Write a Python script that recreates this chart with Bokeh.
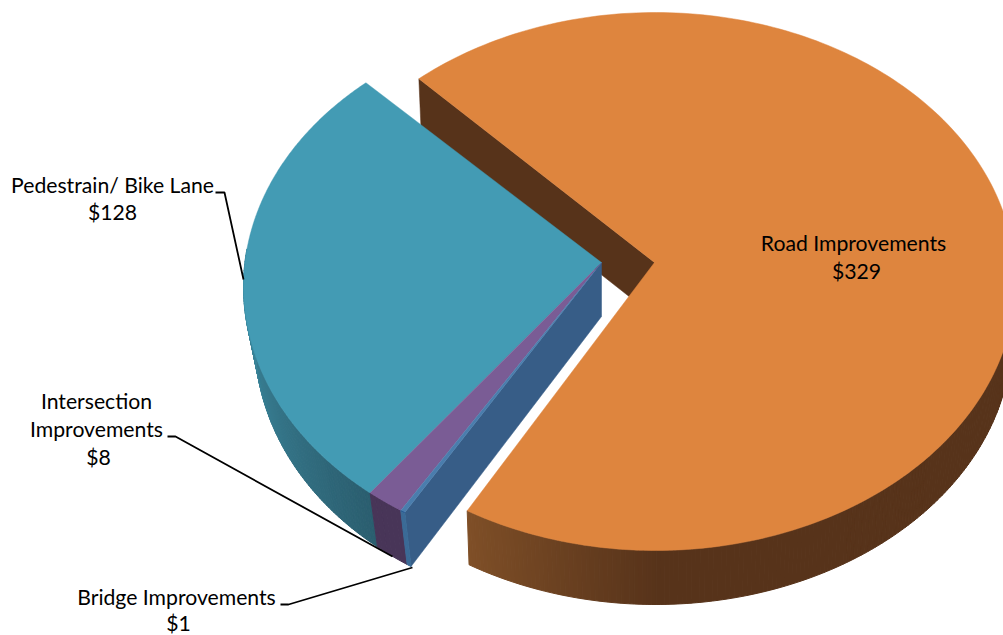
import numpy as np
from bokeh.core.properties import value
from bokeh.embed import file_html
from bokeh.models import ColumnDataSource
from bokeh.plotting import figure
from bokeh.resources import INLINE

categories = ["Road Improvements", "Bridge Improvements", "Intersection Improvements", "Pedestrain/ Bike Lane"]
amounts = [329, 1, 8, 128]
top_colors = ["#DE853E", "#4A7DAD", "#7A5C95", "#439BB4"]

TOTAL = sum(amounts)
DEPTH = 54


def mix(a, b, t):
    t = float(np.clip(t, 0, 1))
    ca = [int(a[i:i + 2], 16) for i in (1, 3, 5)]
    cb = [int(b[i:i + 2], 16) for i in (1, 3, 5)]
    return "#%02x%02x%02x" % tuple(round(x + (y - x) * t) for x, y in zip(ca, cb))


class Disc:
    """Tilted ellipse with its apex off-centre, as a perspective view gives."""

    def __init__(self, apex, centre, rx, ry, bottom_scale):
        self.apex, self.centre, self.rx, self.ry, self.k = apex, centre, rx, ry, bottom_scale

    def rim(self, deg):
        t = np.radians(deg)
        return self.centre[0] + self.rx * np.sin(t), self.centre[1] - self.ry * np.cos(t)

    def lower(self, x, y):
        return self.apex[0] + (np.asarray(x) - self.apex[0]) * self.k, np.asarray(y) + DEPTH


orange_disc = Disc((654, 262), (655, 281), 360, 269, 0.99)
blue_disc = Disc((601, 262), (599, 286), 356, 270, 0.968)

p = figure(width=1003, height=635, x_range=(0, 1003), y_range=(635, 0),
           output_backend="svg", toolbar_location=None, min_border=0,
           outline_line_color=None, background_fill_color="white", border_fill_color="white")
p.axis.visible = False
p.grid.visible = False


def wedge(disc, a0, a1):
    th = np.linspace(a0, a1, 240)
    x, y = disc.rim(th)
    return np.r_[disc.apex[0], x], np.r_[disc.apex[1], y]


def wall(disc, a0, a1, shade, n=80):
    th = np.linspace(a0, a1, n + 1)
    x, y = disc.rim(th)
    bx, by = disc.lower(x, y)
    xs, ys, cs = [], [], []
    for i in range(n):
        xs.append([x[i], x[i + 1], bx[i + 1], bx[i]])
        ys.append([y[i], y[i + 1], by[i + 1], by[i]])
        cs.append(shade(0.5 * (th[i] + th[i + 1])))
    src = ColumnDataSource(dict(xs=xs, ys=ys, c=cs))
    p.patches("xs", "ys", source=src, fill_color="c", line_color="c", line_width=1)


def cut_face(disc, deg, color):
    x, y = disc.rim(deg)
    bx, by = disc.lower(x, y)
    ax, ay = disc.apex
    p.patch([ax, x, bx, ax], [ay, y, by, ay + DEPTH], fill_color=color, line_color=color, line_width=0.5)


# Sweep angles follow the amounts; the large slice is slightly foreshortened by the view.
road_start = 318.9
road_sweep = 360 * amounts[0] / TOTAL * 0.994
road_end = road_start + road_sweep - 360

blue_end = 319.0
teal_start = blue_end - 360 * amounts[3] / TOTAL
purple_start = teal_start - 360 * amounts[2] / TOTAL
bridge_start = purple_start - 360 * amounts[1] / TOTAL

# Large slice: inner face, outer wall, then the top surface
cut_face(orange_disc, road_start, "#57331A")
wall(orange_disc, road_end, 85, lambda d: mix("#7F4F27", "#57331A", (road_end - d) / 32), n=180)
xs, ys = wedge(orange_disc, road_start - 360, road_end)
p.patch(xs, ys, fill_color=top_colors[0], line_color=top_colors[0], line_width=0.5)

# Exploded group: cut face, outer walls, then the top surfaces
cut_face(blue_disc, bridge_start, "#375D87")
wall(blue_disc, teal_start, 278, lambda d: mix("#2B5E6F", "#3A8499", (d - teal_start) / 45), n=90)
wall(blue_disc, purple_start, teal_start, lambda d: "#483558", n=6)
wall(blue_disc, bridge_start, purple_start, lambda d: "#3A6A96", n=2)

for name, a0, a1, color in [
    (categories[3], teal_start, blue_end, top_colors[3]),
    (categories[2], purple_start, teal_start, top_colors[2]),
    (categories[1], bridge_start, purple_start, top_colors[1]),
]:
    xs, ys = wedge(blue_disc, a0, a1)
    p.patch(xs, ys, fill_color=color, line_color=color, line_width=0.4)

# Leader lines
p.line([215, 224, 243], [192, 192, 279], line_color="#000000", line_width=1.8)
p.line([167, 175, 392], [436, 436, 556], line_color="#000000", line_width=1.8)
p.line([280, 288, 412], [604, 604, 567], line_color="#000000", line_width=1.8)

# Data labels
labels = [
    (853, 242.5, categories[0]), (856, 270.5, f"${amounts[0]}"),
    (112, 184.5, categories[3]), (112, 211.5, f"${amounts[3]}"),
    (96, 400.5, "Intersection"), (96, 428.5, "Improvements"), (98, 456.5, f"${amounts[2]}"),
    (176, 596.5, categories[1]), (178, 622, f"${amounts[1]}"),
]
p.text([l[0] for l in labels], [l[1] for l in labels], text=[l[2] for l in labels],
       text_align="center", text_baseline="middle", text_color="#000000",
       text_font=value("Lato"), text_font_size="21.2px")

open("out.html", "w").write(file_html(p, INLINE))
